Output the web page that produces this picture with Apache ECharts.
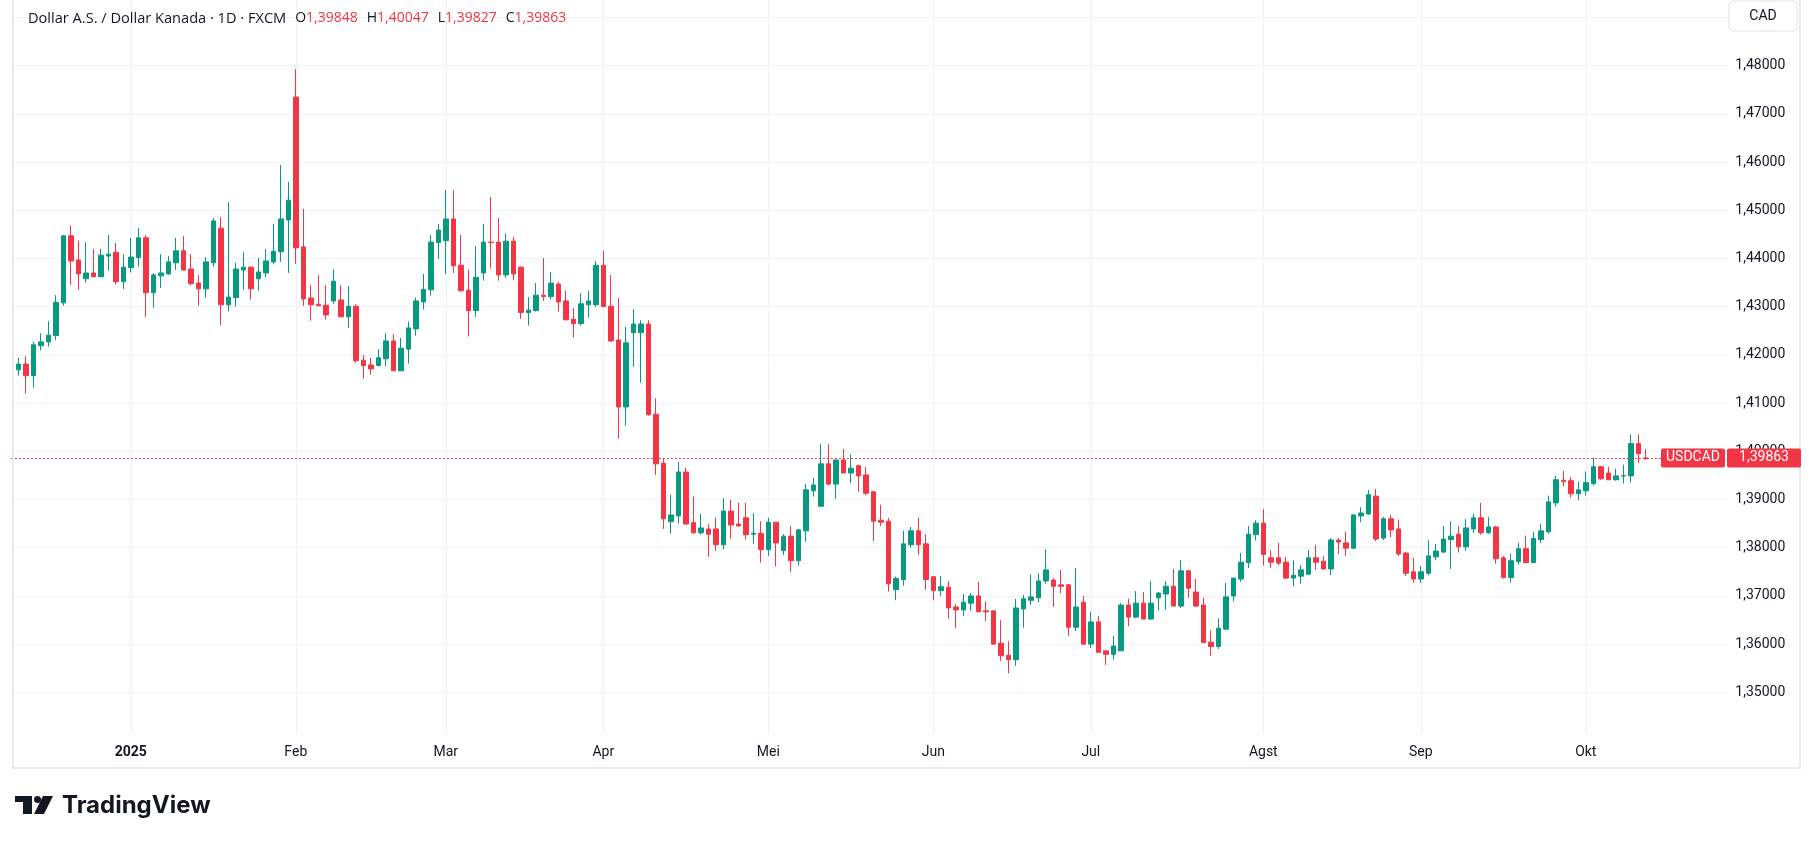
<!DOCTYPE html>
<html>
<head>
<meta charset="utf-8">
<title>USDCAD 1D</title>
<script src="https://cdn.jsdelivr.net/npm/echarts@6.0.0/dist/echarts.min.js"></script>
<style>
  html, body { margin: 0; padding: 0; background: #ffffff; }
  #chart { width: 1813px; height: 844px; }
</style>
</head>
<body>
<div id="chart"></div>
<script>
// USD/CAD daily candles (FXCM), Dec 2024 - Oct 2025
var firstSlot = '2024-12-09';      // empty slot left of the first candle
var firstCandle = '2024-12-10';
var closedDays = ['2024-12-25', '2025-01-01'];
var slotCount = 230;               // trading days incl. empty space on the right

var opens = [
  1.4169, 1.4181, 1.4157, 1.4219, 1.4227, 1.4240, 1.4308, 1.4447, 1.4397, 1.4358,
  1.4370, 1.4362, 1.4405, 1.4413, 1.4352, 1.4381, 1.4402, 1.4443, 1.4329, 1.4364,
  1.4368, 1.4391, 1.4416, 1.4378, 1.4349, 1.4337, 1.4391, 1.4463, 1.4304, 1.4319,
  1.4376, 1.4382, 1.4358, 1.4370, 1.4393, 1.4414, 1.4480, 1.4735, 1.4424, 1.4318,
  1.4305, 1.4303, 1.4312, 1.4314, 1.4279, 1.4301, 1.4189, 1.4179, 1.4178, 1.4192,
  1.4229, 1.4167, 1.4212, 1.4254, 1.4310, 1.4335, 1.4433, 1.4437, 1.4482, 1.4386,
  1.4334, 1.4292, 1.4370, 1.4434, 1.4434, 1.4366, 1.4436, 1.4382, 1.4288, 1.4292,
  1.4324, 1.4321, 1.4347, 1.4312, 1.4274, 1.4265, 1.4304, 1.4304, 1.4386, 1.4301,
  1.4231, 1.4092, 1.4246, 1.4246, 1.4264, 1.4077, 1.3975, 1.3854, 1.3866, 1.3957,
  1.3852, 1.3831, 1.3839, 1.3839, 1.3806, 1.3876, 1.3849, 1.3862, 1.3828, 1.3830,
  1.3796, 1.3853, 1.3794, 1.3824, 1.3773, 1.3835, 1.3918, 1.3886, 1.3974, 1.3932,
  1.3982, 1.3955, 1.3970, 1.3951, 1.3916, 1.3857, 1.3855, 1.3713, 1.3734, 1.3806,
  1.3835, 1.3808, 1.3740, 1.3711, 1.3718, 1.3677, 1.3671, 1.3685, 1.3700, 1.3669,
  1.3669, 1.3602, 1.3577, 1.3568, 1.3673, 1.3691, 1.3696, 1.3731, 1.3733, 1.3723,
  1.3723, 1.3635, 1.3687, 1.3600, 1.3646, 1.3586, 1.3579, 1.3586, 1.3681, 1.3656,
  1.3685, 1.3652, 1.3696, 1.3704, 1.3720, 1.3679, 1.3752, 1.3708, 1.3681, 1.3604,
  1.3595, 1.3631, 1.3700, 1.3735, 1.3769, 1.3827, 1.3851, 1.3779, 1.3779, 1.3770,
  1.3737, 1.3741, 1.3745, 1.3779, 1.3772, 1.3756, 1.3816, 1.3810, 1.3799, 1.3866,
  1.3870, 1.3907, 1.3820, 1.3860, 1.3839, 1.3789, 1.3750, 1.3735, 1.3747, 1.3781,
  1.3791, 1.3817, 1.3828, 1.3802, 1.3839, 1.3862, 1.3831, 1.3843, 1.3779, 1.3738,
  1.3771, 1.3798, 1.3769, 1.3817, 1.3833, 1.3893, 1.3940, 1.3939, 1.3912, 1.3918,
  1.3933, 1.3968, 1.3955, 1.3941, 1.39487, 1.3949, 1.4016, 1.39848
];
var closes = [
  1.4181, 1.4157, 1.4221, 1.4227, 1.4241, 1.4309, 1.4447, 1.4395, 1.4368, 1.4370,
  1.4362, 1.4407, 1.4409, 1.4352, 1.4382, 1.4403, 1.4443, 1.4329, 1.4366, 1.4370,
  1.4393, 1.4416, 1.4376, 1.4348, 1.4337, 1.4393, 1.4478, 1.4304, 1.4320, 1.4378,
  1.4382, 1.4337, 1.4372, 1.4395, 1.4415, 1.4482, 1.4521, 1.4422, 1.4316, 1.4304,
  1.4302, 1.4283, 1.4353, 1.4279, 1.4301, 1.4188, 1.4178, 1.4171, 1.4194, 1.4229,
  1.4167, 1.4214, 1.4256, 1.4312, 1.4336, 1.4434, 1.4459, 1.4482, 1.4385, 1.4333,
  1.4292, 1.4361, 1.4434, 1.4433, 1.4366, 1.4436, 1.4368, 1.4288, 1.4293, 1.4324,
  1.4321, 1.4349, 1.4310, 1.4273, 1.4265, 1.4306, 1.4312, 1.4386, 1.4300, 1.4229,
  1.4092, 1.4225, 1.4264, 1.4264, 1.4076, 1.3974, 1.3860, 1.3868, 1.3957, 1.3849,
  1.3831, 1.3841, 1.3828, 1.3806, 1.3876, 1.3847, 1.3845, 1.3827, 1.3830, 1.3796,
  1.3853, 1.3810, 1.3824, 1.3773, 1.3837, 1.3920, 1.3930, 1.3974, 1.3932, 1.3982,
  1.3955, 1.3965, 1.3949, 1.3913, 1.3855, 1.3853, 1.3725, 1.3736, 1.3808, 1.3835,
  1.3806, 1.3734, 1.3711, 1.3719, 1.3675, 1.3671, 1.3687, 1.3700, 1.3667, 1.3667,
  1.3600, 1.3576, 1.3568, 1.3675, 1.3694, 1.3698, 1.3731, 1.3754, 1.3720, 1.3720,
  1.3635, 1.3677, 1.3600, 1.3646, 1.3583, 1.3579, 1.3596, 1.3681, 1.3656, 1.3685,
  1.3652, 1.3685, 1.3706, 1.3720, 1.3679, 1.3752, 1.3716, 1.3679, 1.3603, 1.3595,
  1.3633, 1.3698, 1.3737, 1.3770, 1.3828, 1.3851, 1.3786, 1.3770, 1.3768, 1.3737,
  1.3743, 1.3754, 1.3779, 1.3770, 1.3756, 1.3816, 1.3812, 1.3799, 1.3868, 1.3872,
  1.3910, 1.3818, 1.3860, 1.3837, 1.3787, 1.3747, 1.3735, 1.3750, 1.3783, 1.3793,
  1.3818, 1.3824, 1.3802, 1.3841, 1.3862, 1.3831, 1.3843, 1.3777, 1.3738, 1.3773,
  1.3798, 1.3769, 1.3819, 1.3835, 1.3895, 1.3941, 1.3937, 1.3912, 1.3920, 1.3935,
  1.3968, 1.3943, 1.3941, 1.3949, 1.39494, 1.4016, 1.3995, 1.39863
];
var lows = [
  1.4157, 1.4120, 1.4132, 1.4209, 1.4217, 1.4231, 1.4302, 1.4345, 1.4335, 1.4350,
  1.4362, 1.4362, 1.4375, 1.4346, 1.4337, 1.4371, 1.4383, 1.4279, 1.4298, 1.4339,
  1.4366, 1.4376, 1.4375, 1.4344, 1.4302, 1.4319, 1.4383, 1.4261, 1.4290, 1.4300,
  1.4335, 1.4315, 1.4333, 1.4361, 1.4389, 1.4393, 1.4370, 1.4389, 1.4302, 1.4271,
  1.4302, 1.4273, 1.4306, 1.4279, 1.4256, 1.4184, 1.4151, 1.4159, 1.4176, 1.4176,
  1.4167, 1.4167, 1.4182, 1.4240, 1.4294, 1.4323, 1.4399, 1.4368, 1.4370, 1.4331,
  1.4238, 1.4279, 1.4354, 1.4379, 1.4354, 1.4360, 1.4355, 1.4275, 1.4261, 1.4290,
  1.4312, 1.4315, 1.4290, 1.4271, 1.4236, 1.4261, 1.4277, 1.4300, 1.4300, 1.4227,
  1.4026, 1.4053, 1.4175, 1.4142, 1.4074, 1.3951, 1.3839, 1.3829, 1.3850, 1.3849,
  1.3829, 1.3827, 1.3781, 1.3793, 1.3797, 1.3819, 1.3844, 1.3817, 1.3808, 1.3769,
  1.3783, 1.3761, 1.3785, 1.3750, 1.3763, 1.3812, 1.3906, 1.3886, 1.3930, 1.3901,
  1.3955, 1.3934, 1.3916, 1.3909, 1.3814, 1.3845, 1.3709, 1.3691, 1.3721, 1.3800,
  1.3785, 1.3713, 1.3691, 1.3700, 1.3653, 1.3633, 1.3658, 1.3669, 1.3667, 1.3648,
  1.3598, 1.3565, 1.3539, 1.3555, 1.3634, 1.3681, 1.3687, 1.3725, 1.3677, 1.3706,
  1.3617, 1.3627, 1.3598, 1.3592, 1.3583, 1.3557, 1.3568, 1.3586, 1.3637, 1.3654,
  1.3652, 1.3650, 1.3669, 1.3671, 1.3679, 1.3675, 1.3696, 1.3677, 1.3603, 1.3576,
  1.3590, 1.3630, 1.3689, 1.3729, 1.3758, 1.3815, 1.3763, 1.3758, 1.3764, 1.3735,
  1.3720, 1.3725, 1.3745, 1.3754, 1.3754, 1.3743, 1.3787, 1.3783, 1.3797, 1.3853,
  1.3868, 1.3814, 1.3816, 1.3822, 1.3783, 1.3741, 1.3727, 1.3727, 1.3743, 1.3774,
  1.3789, 1.3756, 1.3790, 1.3794, 1.3831, 1.3827, 1.3829, 1.3767, 1.3736, 1.3727,
  1.3765, 1.3769, 1.3769, 1.3810, 1.3829, 1.3885, 1.3927, 1.3904, 1.3898, 1.3908,
  1.3929, 1.3941, 1.3941, 1.3939, 1.3933, 1.3935, 1.3976, 1.39827
];
var highs = [
  1.4194, 1.4198, 1.4227, 1.4245, 1.4270, 1.4324, 1.4449, 1.4468, 1.4437, 1.4434,
  1.4420, 1.4420, 1.4449, 1.4432, 1.4409, 1.4443, 1.4463, 1.4449, 1.4370, 1.4409,
  1.4405, 1.4443, 1.4447, 1.4409, 1.4366, 1.4403, 1.4484, 1.4486, 1.4517, 1.4391,
  1.4413, 1.4384, 1.4401, 1.4420, 1.4472, 1.4594, 1.4559, 1.4793, 1.4503, 1.4345,
  1.4366, 1.4345, 1.4378, 1.4345, 1.4343, 1.4305, 1.4200, 1.4194, 1.4212, 1.4245,
  1.4243, 1.4235, 1.4269, 1.4319, 1.4368, 1.4449, 1.4472, 1.4542, 1.4542, 1.4449,
  1.4377, 1.4426, 1.4472, 1.4528, 1.4484, 1.4452, 1.4445, 1.4384, 1.4320, 1.4349,
  1.4401, 1.4372, 1.4351, 1.4333, 1.4297, 1.4328, 1.4333, 1.4395, 1.4416, 1.4366,
  1.4318, 1.4258, 1.4295, 1.4272, 1.4272, 1.4110, 1.3984, 1.3910, 1.3978, 1.3966,
  1.3906, 1.3870, 1.3849, 1.3862, 1.3903, 1.3899, 1.3893, 1.3893, 1.3872, 1.3855,
  1.3862, 1.3853, 1.3828, 1.3845, 1.3839, 1.3932, 1.3945, 1.4015, 1.4015, 1.3982,
  1.4005, 1.3994, 1.3972, 1.3967, 1.3918, 1.3889, 1.3862, 1.3740, 1.3835, 1.3843,
  1.3862, 1.3828, 1.3740, 1.3742, 1.3731, 1.3683, 1.3704, 1.3706, 1.3729, 1.3689,
  1.3669, 1.3650, 1.3606, 1.3694, 1.3702, 1.3745, 1.3747, 1.3797, 1.3737, 1.3754,
  1.3725, 1.3758, 1.3700, 1.3667, 1.3658, 1.3586, 1.3617, 1.3685, 1.3694, 1.3710,
  1.3708, 1.3731, 1.3708, 1.3731, 1.3756, 1.3774, 1.3754, 1.3735, 1.3696, 1.3629,
  1.3654, 1.3727, 1.3737, 1.3789, 1.3845, 1.3857, 1.3880, 1.3795, 1.3810, 1.3781,
  1.3774, 1.3764, 1.3795, 1.3806, 1.3783, 1.3820, 1.3820, 1.3833, 1.3870, 1.3884,
  1.3920, 1.3922, 1.3864, 1.3868, 1.3858, 1.3791, 1.3779, 1.3762, 1.3816, 1.3808,
  1.3845, 1.3855, 1.3845, 1.3859, 1.3870, 1.3893, 1.3864, 1.3845, 1.3783, 1.3788,
  1.3810, 1.3825, 1.3833, 1.3850, 1.3908, 1.3949, 1.3960, 1.3947, 1.3937, 1.3958,
  1.3987, 1.3970, 1.3968, 1.3964, 1.3972, 1.4035, 1.4035, 1.40047
];

var monthNames = ['Jan', 'Feb', 'Mar', 'Apr', 'Mei', 'Jun', 'Jul', 'Agst', 'Sep', 'Okt', 'Nov', 'Des'];
var gridPrices = [1.35, 1.36, 1.37, 1.38, 1.39, 1.40, 1.41, 1.42, 1.43, 1.44, 1.45, 1.46, 1.47, 1.48, 1.49];
var labelPrices = [1.35, 1.36, 1.37, 1.38, 1.39, 1.40, 1.41, 1.42, 1.43, 1.44, 1.45, 1.46, 1.47, 1.48];
var priceMin = 1.34156;
var priceMax = 1.49363;

var UP = '#089981';
var DOWN = '#f23645';
var TEXT = '#131722';
var FONT = 'Roboto, "Noto Sans", sans-serif';
var HEAD_FONT = '"Open Sans", Roboto, sans-serif';

// trading day slots (weekdays, minus closed days)
var dates = [];
var d = new Date(firstSlot + 'T00:00:00Z');
while (dates.length < slotCount) {
  var s = d.toISOString().slice(0, 10);
  var wd = d.getUTCDay();
  if (wd !== 0 && wd !== 6 && closedDays.indexOf(s) < 0) dates.push(s);
  d.setUTCDate(d.getUTCDate() + 1);
}

function isMonthStart(i) {
  if (i <= 0 || i >= dates.length) return false;
  return dates[i].slice(5, 7) !== dates[i - 1].slice(5, 7);
}
function fmtPrice(v) { return v.toFixed(5).replace('.', ','); }

var start = dates.indexOf(firstCandle);
var last = opens.length - 1;
var candles = dates.map(function (day, i) {
  var k = i - start;
  if (k < 0 || k > last) return '-';
  var item = { value: [opens[k], closes[k], lows[k], highs[k]] };
  if (k === last) item.itemStyle = { color: DOWN, color0: DOWN, borderColor: DOWN, borderColor0: DOWN };
  return item;
});

var lastClose = closes[last];
var headerText = '{n|Dollar A.S. / Dollar Kanada · 1D · FXCM}' +
  '{k|O}{v|' + fmtPrice(opens[last]) + '}' +
  '{k|H}{v|' + fmtPrice(highs[last]) + '}' +
  '{k|L}{v|' + fmtPrice(lows[last]) + '}' +
  '{k|C}{v|' + fmtPrice(lastClose) + '}';

var chart = echarts.init(document.getElementById('chart'));

chart.setOption({
  animation: false,
  backgroundColor: '#ffffff',
  textStyle: { fontFamily: FONT },
  title: {
    left: 23,
    top: 6,
    text: headerText,
    textStyle: {
      fontWeight: 'normal',
      rich: {
        n: { fontSize: 14.6, color: TEXT, fontFamily: HEAD_FONT, fontWeight: 'normal' },
        k: { fontSize: 14, color: TEXT, fontFamily: HEAD_FONT, fontWeight: 'normal', padding: [0, 0, 0, 9] },
        v: { fontSize: 14, color: DOWN, fontFamily: HEAD_FONT, fontWeight: 'normal' }
      }
    }
  },
  grid: {
    left: 10.8,
    right: 84.7,
    top: 0,
    bottom: 111,
    outerBoundsMode: 'none'
  },
  xAxis: {
    type: 'category',
    data: dates,
    boundaryGap: false,
    axisLine: { show: false },
    axisTick: { show: false },
    axisLabel: {
      interval: function (i) { return isMonthStart(i); },
      margin: 12,
      fontSize: 14,
      color: TEXT,
      fontFamily: FONT,
      formatter: function (val) {
        var m = +val.slice(5, 7) - 1;
        if (m === 0) return '{y|' + val.slice(0, 4) + '}';
        return monthNames[m];
      },
      rich: { y: { fontSize: 14, fontWeight: 'bold', color: TEXT, fontFamily: FONT } }
    },
    splitLine: {
      show: true,
      interval: function (i) { return isMonthStart(i); },
      lineStyle: { color: '#f0f1f4', width: 1 }
    }
  },
  yAxis: {
    type: 'value',
    position: 'right',
    min: priceMin,
    max: priceMax,
    axisLine: { show: false },
    axisTick: { show: false, customValues: gridPrices },
    axisLabel: {
      customValues: labelPrices,
      margin: 7,
      fontSize: 14,
      color: TEXT,
      fontFamily: FONT,
      formatter: function (v) { return fmtPrice(v); }
    },
    splitLine: { show: true, lineStyle: { color: '#f0f1f4', width: 1 } }
  },
  series: [{
    name: 'USDCAD',
    type: 'candlestick',
    data: candles,
    barWidth: 5,
    itemStyle: {
      color: UP,
      color0: DOWN,
      borderColor: UP,
      borderColor0: DOWN,
      borderColorDoji: DOWN,
      borderWidth: 1
    },
    markLine: {
      silent: true,
      precision: 5,
      symbol: ['none', 'none'],
      label: { show: false },
      lineStyle: { color: DOWN, type: [2, 2], width: 1 },
      data: [{ yAxis: lastClose }]
    }
  }]
});

// price tags sit on the last close, so ask the axis where that is
var py = chart.convertToPixel({ yAxisIndex: 0 }, lastClose);

chart.setOption({
  graphic: [
    {
      type: 'polyline', z: 50, silent: true,
      shape: { points: [[13, 0], [13, 768], [1800, 768], [1800, 0]] },
      style: { stroke: '#e9ebf0', lineWidth: 2, fill: null }
    },
    {
      type: 'rect', z: 60, silent: true,
      shape: { x: 1729, y: 1, width: 68, height: 30, r: 4 },
      style: { fill: '#ffffff', stroke: '#e0e3eb', lineWidth: 1 }
    },
    {
      type: 'text', z: 61, silent: true, x: 1763, y: 16,
      style: { text: 'CAD', fill: TEXT, font: '14px ' + FONT, align: 'center', verticalAlign: 'middle' }
    },
    {
      type: 'rect', z: 60, silent: true,
      shape: { x: 1661, y: py - 9.5, width: 64, height: 19, r: 2 },
      style: { fill: DOWN }
    },
    {
      type: 'text', z: 61, silent: true, x: 1693, y: py,
      style: { text: 'USDCAD', fill: '#ffffff', font: '14px ' + FONT, align: 'center', verticalAlign: 'middle' }
    },
    {
      type: 'rect', z: 60, silent: true,
      shape: { x: 1727, y: py - 9.5, width: 74, height: 19, r: 2 },
      style: { fill: DOWN }
    },
    {
      type: 'text', z: 61, silent: true, x: 1764, y: py,
      style: { text: fmtPrice(lastClose), fill: '#ffffff', font: '14px ' + FONT, align: 'center', verticalAlign: 'middle' }
    },
    // TradingView mark
    {
      type: 'group', z: 60, silent: true,
      children: [
        { type: 'rect', shape: { x: 15, y: 796, width: 17, height: 6 }, style: { fill: TEXT } },
        { type: 'rect', shape: { x: 23, y: 796, width: 9, height: 18 }, style: { fill: TEXT } },
        { type: 'circle', shape: { cx: 37.5, cy: 799.5, r: 3.5 }, style: { fill: TEXT } },
        { type: 'polygon', shape: { points: [[43, 796], [53, 796], [44, 814], [34, 814]] }, style: { fill: TEXT } },
        {
          type: 'text', x: 62, y: 806,
          style: { text: 'TradingView', fill: TEXT, font: 'bold 24px Inter, Roboto, sans-serif', verticalAlign: 'middle' }
        }
      ]
    }
  ]
});
</script>
</body>
</html>
